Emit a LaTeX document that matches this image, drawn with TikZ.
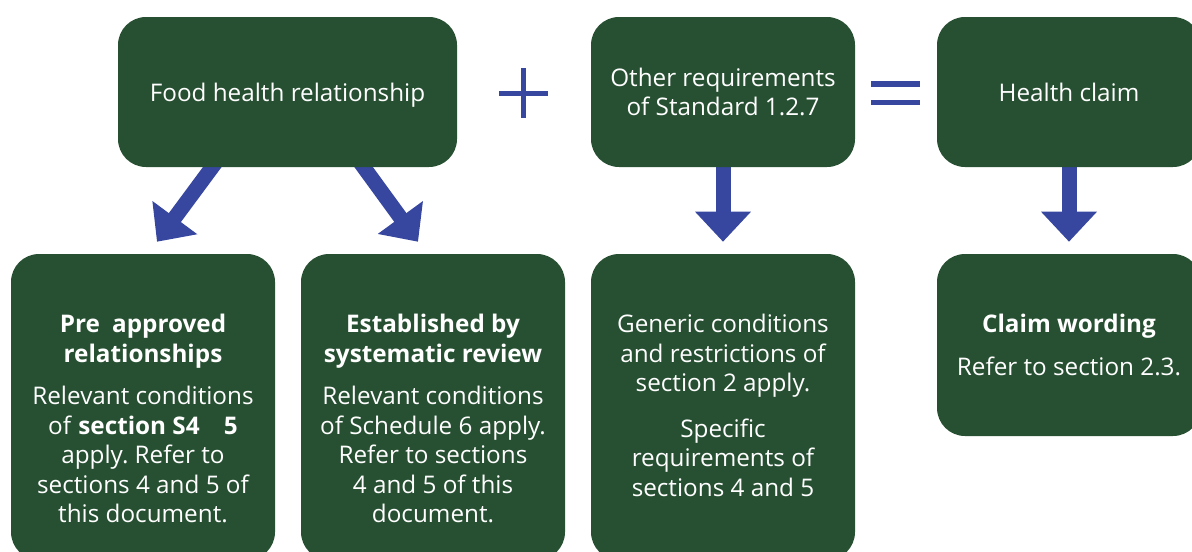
\documentclass[tikz,border=0pt]{standalone}
\usepackage{fontspec}
\setmainfont{Open Sans}
\usetikzlibrary{arrows.meta,backgrounds}
\definecolor{boxgreen}{RGB}{39,80,50}
\definecolor{arrowblue}{RGB}{55,71,160}
\newlength{\pxu}
\setlength{\pxu}{0.75pt}
\frenchspacing

\begin{document}
\begin{tikzpicture}[x=0.75pt, y=-0.75pt,
    greenbox/.style={fill=boxgreen, rounded corners=21pt, inner sep=0pt, text=white, align=center,
        font=\fontsize{18.2}{22.1}\selectfont, minimum width=264\pxu, minimum height=150\pxu},
    boxtext/.style={text=white, align=center, inner sep=0pt, anchor=north,
        font=\fontsize{18.2}{22.1}\selectfont},
    bigarrow/.style={draw=arrowblue, line width=11.25pt, -{Triangle[width=40.5pt, length=22.5pt]}}]
                \useasboundingbox (0,0) rectangle (1192,551);
                \clip (0,0) rectangle (1192,551);
                % top row
                \node[greenbox, minimum width=339\pxu, text depth=0pt] (food) at (287.5,92) {Food health relationship};
                \node[greenbox] (other) at (723,92) {Other requirements\\ of Standard 1.2.7};
                \node[greenbox] (claim) at (1069,92) {Health claim};
                % bottom row
                \node[greenbox, minimum height=306\pxu] (pre) at (143,407) {};
                \node[greenbox, minimum height=306\pxu] (estab) at (433,407) {};
                \node[greenbox, minimum height=306\pxu] (generic) at (723,407) {};
                \node[greenbox, minimum height=182\pxu] (wording) at (1069,345)
                    {\textbf{Claim wording}\\[10pt] Refer to section 2.3.};
                \node[boxtext] (pretext) at (143,314)
                    {\textbf{Pre\hspace{0.5em}approved}\\ \textbf{relationships}\\[10pt]
                     Relevant conditions\\ of \textbf{section S4\hspace{1em}5}\\ apply. Refer to\\
                     sections 4 and 5 of\\ this document.};
                \node[boxtext] (estabtext) at (433,314)
                    {\textbf{Established by}\\ \textbf{systematic review}\\[10pt]
                     Relevant conditions\\ of Schedule 6 apply.\\ Refer to sections\\
                     4 and 5 of this\\ document.};
                \node[boxtext] (generictext) at (723,314)
                    {Generic conditions\\ and restrictions of\\ section 2 apply.\\[12pt]
                     Specific\\ requirements of\\ sections 4 and 5};
                % plus and equals
                \draw[arrowblue, line width=3.75pt] (499,93) -- (548,93) (523.5,68) -- (523.5,118);
                \draw[arrowblue, line width=4.1pt] (871,84) -- (920,84) (871,102.5) -- (920,102.5);
                % arrows
                \begin{scope}[on background layer]
                    \draw[bigarrow] ([xshift=-68\pxu, yshift=10\pxu]food.south) -- ([xshift=14\pxu, yshift=12\pxu]pre.north);
                    \draw[bigarrow] ([xshift=69\pxu, yshift=10\pxu]food.south) -- ([xshift=-15\pxu, yshift=12\pxu]estab.north);
                    \draw[bigarrow] (other.south) -- ([yshift=12\pxu]generic.north);
                    \draw[bigarrow] (claim.south) -- ([yshift=12\pxu]wording.north);
                \end{scope}
            \end{tikzpicture}
\end{document}
